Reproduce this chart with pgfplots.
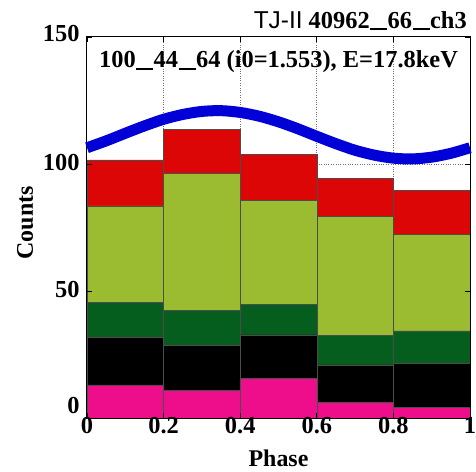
\documentclass[border=0pt]{standalone}
\usepackage{fontspec}
\setmainfont{Liberation Serif}
\newfontfamily\sansf{Liberation Sans}
\usepackage{pgfplots}
\pgfplotsset{compat=1.18}
\definecolor{cred}{RGB}{221,6,6}
\definecolor{cyg}{RGB}{155,187,48}
\definecolor{cdg}{RGB}{6,94,30}
\definecolor{cmag}{RGB}{238,14,140}
\definecolor{cblue}{RGB}{0,0,215}
\newcommand\us{\kern0.5bp\rule[-2.2bp]{17bp}{2bp}\kern0.5bp}
\begin{document}
\begin{tikzpicture}
\useasboundingbox (-87bp,-54bp) rectangle (389bp,418bp);
\begin{axis}[at={(0,0)},anchor=south west,width=383bp,height=381bp,scale only axis,
  xmin=0,xmax=1,ymin=0,ymax=150,
  xtick={0.2,0.4,0.6,0.8},ytick={50,100},xticklabels={},yticklabels={},
  major tick length=0pt,grid=major,
  grid style={black!55,dotted,line width=0.9bp},
  axis line style={draw=none},
  ybar stacked,bar width=0.2]
\addplot[fill=cmag,draw=black!70,line width=0.6bp] coordinates {(0.1,13.0) (0.3,11.0) (0.5,15.5) (0.7,6.0) (0.9,4.2)};
\addplot[fill=black,draw=black!70,line width=0.6bp] coordinates {(0.1,18.6) (0.3,17.7) (0.5,17.2) (0.7,14.9) (0.9,17.3)};
\addplot[fill=cdg,draw=black!70,line width=0.6bp] coordinates {(0.1,13.8) (0.3,13.8) (0.5,12.1) (0.7,11.6) (0.9,12.8)};
\addplot[fill=cyg,draw=black!70,line width=0.6bp] coordinates {(0.1,38.1) (0.3,53.8) (0.5,40.8) (0.7,47.0) (0.9,38.1)};
\addplot[fill=cred,draw=black!70,line width=0.6bp] coordinates {(0.1,18.1) (0.3,17.4) (0.5,18.1) (0.7,14.9) (0.9,17.1)};
\end{axis}
\begin{axis}[at={(0,0)},anchor=south west,width=383bp,height=381bp,scale only axis,
  xmin=0,xmax=1,ymin=0,ymax=150,
  xtick={0,0.2,0.4,0.6,0.8,1},xticklabels={0,0.2,0.4,0.6,0.8,1},
  ytick={0,50,100,150},
  yticklabels={\raisebox{5bp}[0pt][0pt]{0},\raisebox{-7bp}[0pt][0pt]{50},\raisebox{-6.5bp}[0pt][0pt]{100},\raisebox{-5bp}[0pt][0pt]{150}},
  /pgf/number format/assume math mode=true,
  tick label style={font=\fontsize{24.5}{24.5}\selectfont\bfseries},
  xticklabel style={yshift=4bp},
  yticklabel style={xshift=-4bp},
  tick align=inside,major tick length=5bp,
  tick style={black,line width=0.9bp},
  axis line style={black,line width=1bp},
  label style={font=\fontsize{24}{24}\selectfont\bfseries},
  xlabel={Phase},ylabel={Counts},
  xlabel style={at={(axis description cs:0.5,-0.126)},anchor=base},
  ylabel style={at={(axis description cs:-0.141,0.512)},anchor=base},
  clip=false]
\addplot[cblue,line width=11bp,smooth,no markers] coordinates {
(0,106.4) (0.05,109.1) (0.1,112.1) (0.15,115.0) (0.2,117.6) (0.25,119.5) (0.3,120.7) (0.35,121.0)
(0.4,120.3) (0.45,118.8) (0.5,116.6) (0.55,113.9) (0.6,110.9) (0.65,108.0) (0.7,105.4) (0.75,103.5)
(0.8,102.3) (0.85,102.0) (0.9,102.7) (0.95,104.2) (1,106.4)};
\node[anchor=base east,inner sep=0pt,font=\fontsize{24.5}{24.5}\selectfont\bfseries] at (axis cs:0.992,153.5) {{\sansf\mdseries TJ-II} 40962\us66\us ch3};
\node[anchor=base,inner sep=0pt,font=\fontsize{24.5}{24.5}\selectfont\bfseries] at (axis cs:0.5,137.8) {100\us44\us64 (i0=1.553), E=17.8keV};
\end{axis}
\end{tikzpicture}
\end{document}
